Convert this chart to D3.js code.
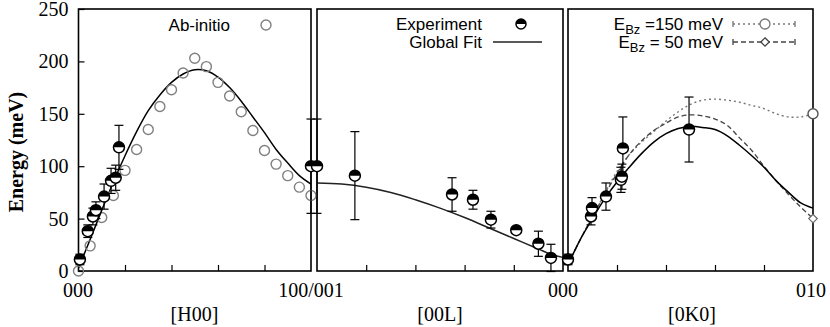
<!DOCTYPE html>
<html>
<head>
<meta charset="utf-8">
<script src="https://cdn.jsdelivr.net/npm/d3@7"></script>
<style>
body { margin: 0; background: #fff; }
text { fill: #000; }
</style>
</head>
<body>
<script>
// energy axis
var yTicks = [0, 50, 100, 150, 200, 250];

// [H00] panel: experiment, ab-initio and global fit
var h00Q   = [0.006, 0.04, 0.062, 0.075, 0.11, 0.14, 0.16, 0.174, 1.0];
var h00E   = [11, 38, 52, 58, 71, 86, 89, 118, 100];
var h00Err = [5, 6, 8, 8, 12, 12, 12, 21, 45];

var abQ = [0, 0.05, 0.1, 0.15, 0.2, 0.25, 0.3, 0.35, 0.4, 0.45, 0.5,
           0.55, 0.6, 0.65, 0.7, 0.75, 0.8, 0.85, 0.9, 0.95, 1.0];
var abE = [0, 24, 51, 72, 96, 116, 135, 157, 173, 189, 203,
           195, 180, 167, 152, 134, 115, 102, 91, 80, 72];

var fitQ = [0, 0.05, 0.1, 0.15, 0.2, 0.25, 0.3, 0.35, 0.4, 0.45, 0.5,
            0.55, 0.6, 0.65, 0.7, 0.75, 0.8, 0.85, 0.9, 0.95, 1.0];
var fitH = [3, 30, 58, 85, 110, 133, 153, 168, 180, 188, 192,
            191, 185, 175, 162, 147, 132, 116, 103, 91, 83];

// [00L] panel
var l00Q   = [1.0, 0.846, 0.451, 0.366, 0.293, 0.19, 0.10, 0.049];
var l00E   = [100, 91, 73, 68, 49, 39, 26, 12.5];
var l00Err = [45, 42, 16, 9, 8, 3, 12, 13];
var fitLQ  = [1, 0.9, 0.8, 0.7, 0.6, 0.5, 0.4, 0.3, 0.2, 0.1, 0.05, 0];
var fitL   = [84, 83, 80, 75, 68, 60, 51, 41, 31, 21, 16, 13];

// [0K0] panel
var k0Q   = [0, 0.094, 0.098, 0.155, 0.216, 0.22, 0.224, 0.494];
var k0E   = [11, 52, 60, 71, 87, 90, 117, 135];
var k0Err = [5, 8, 10, 13, 12, 12, 30, 31];
var fitK  = [6, 30, 50, 69, 85, 99, 112, 123, 131, 136, 138,
             137, 135, 129, 120, 110, 99, 86, 75, 65, 60];
var bz150 = [6, 30, 52, 74, 95, 111, 123, 133, 143, 152, 159,
             163, 164, 163, 161, 158, 155, 150, 147, 147, 150];
var bz50  = [6, 30, 52, 73, 93, 111, 124, 134, 141, 147, 149,
             148, 145, 139, 127, 115, 100, 86, 73, 61, 50];

var w = 830, h = 327;
var svg = d3.select("body").append("svg")
    .attr("width", w)
    .attr("height", h);

var serif = "'Liberation Serif', 'Times New Roman', serif";
var sans = "'Liberation Sans', Arial, sans-serif";

var y = d3.scaleLinear().domain([0, 250]).range([271, 9]);

var panels = [
    {x: d3.scaleLinear().domain([0, 1]).range([78.5, 311]), ticks: [0.2, 0.4, 0.6, 0.8]},
    {x: d3.scaleLinear().domain([1, 0]).range([317, 563]), ticks: [0.8, 0.6, 0.4, 0.2]},
    {x: d3.scaleLinear().domain([0, 1]).range([568, 813]), ticks: [0.2, 0.4, 0.6, 0.8]}
];

function zip(qs, es) {
    return qs.map(function(q, i) { return {q: q, e: es[i]}; });
}

// frames and ticks
panels.forEach(function(p) {
    var r = p.x.range();
    var x0 = Math.min(r[0], r[1]), x1 = Math.max(r[0], r[1]);
    svg.append("g")
        .attr("transform", "translate(0,271)")
        .call(d3.axisBottom(p.x).tickValues(p.ticks).tickSize(-6).tickFormat(""))
        .call(function(g) {
            g.select(".domain").remove();
            g.selectAll("line").attr("stroke", "#000").attr("stroke-width", 1.2);
        });
    svg.append("rect")
        .attr("x", x0).attr("y", 9)
        .attr("width", x1 - x0).attr("height", 262)
        .attr("fill", "none")
        .attr("stroke", "#000")
        .attr("stroke-width", 1.6);
});

svg.append("g")
    .attr("transform", "translate(78.5,0)")
    .call(d3.axisLeft(y).tickValues(yTicks).tickSize(-6).tickPadding(10))
    .call(function(g) {
        g.select(".domain").remove();
        g.selectAll("line").attr("stroke", "#000").attr("stroke-width", 1.2);
        g.selectAll("text")
            .attr("font-family", serif)
            .attr("font-size", 20)
            .attr("fill", "#000");
    });

// x labels
var xLabels = [
    {t: "000", x: 78}, {t: "100/001", x: 311}, {t: "000", x: 563}, {t: "010", x: 811}
];
svg.selectAll(".xl").data(xLabels).enter().append("text")
    .attr("x", function(d) { return d.x; })
    .attr("y", 297)
    .attr("text-anchor", "middle")
    .attr("font-family", serif)
    .attr("font-size", 20)
    .text(function(d) { return d.t; });

var axisNames = [{t: "[H00]", x: 194.5}, {t: "[00L]", x: 440}, {t: "[0K0]", x: 692}];
svg.selectAll(".an").data(axisNames).enter().append("text")
    .attr("x", function(d) { return d.x; })
    .attr("y", 321)
    .attr("text-anchor", "middle")
    .attr("font-family", serif)
    .attr("font-size", 20)
    .text(function(d) { return d.t; });

svg.append("text")
    .attr("transform", "translate(23,152) rotate(-90)")
    .attr("text-anchor", "middle")
    .attr("font-family", serif)
    .attr("font-size", 20)
    .attr("font-weight", "bold")
    .text("Energy (meV)");

// lines
function drawLine(px, data, opts) {
    var line = d3.line()
        .x(function(d) { return px(d.q); })
        .y(function(d) { return y(d.e); })
        .curve(d3.curveCatmullRom);
    svg.append("path")
        .datum(data)
        .attr("d", line)
        .attr("fill", "none")
        .attr("stroke", opts.color)
        .attr("stroke-width", opts.width)
        .attr("stroke-dasharray", opts.dash || null);
}

drawLine(panels[2].x, zip(fitQ, bz150), {color: "#777", width: 1.4, dash: "2,3"});
drawLine(panels[2].x, zip(fitQ, bz50), {color: "#444", width: 1.3, dash: "5,3"});
drawLine(panels[0].x, zip(fitQ, fitH), {color: "#000", width: 1.5});
drawLine(panels[1].x, zip(fitLQ, fitL), {color: "#222", width: 1.5});
drawLine(panels[2].x, zip(fitQ, fitK), {color: "#000", width: 1.5});

// ab-initio circles
svg.append("g").selectAll("circle")
    .data(zip(abQ, abE))
    .enter().append("circle")
    .attr("cx", function(d) { return panels[0].x(d.q); })
    .attr("cy", function(d) { return y(d.e); })
    .attr("r", 5)
    .attr("fill", "none")
    .attr("stroke", "#808080")
    .attr("stroke-width", 1.4);

// end markers of the E_Bz curves
svg.append("circle")
    .attr("cx", panels[2].x(1)).attr("cy", y(bz150[bz150.length - 1]))
    .attr("r", 5).attr("fill", "#fff")
    .attr("stroke", "#555").attr("stroke-width", 1.4);
svg.append("path")
    .attr("d", d3.symbol().type(d3.symbolDiamond2).size(45)())
    .attr("transform", "translate(" + panels[2].x(1) + "," + y(bz50[bz50.length - 1]) + ")")
    .attr("fill", "#fff")
    .attr("stroke", "#666").attr("stroke-width", 1.2);

// experiment with error bars
function halfDisc(sel, r) {
    sel.append("circle").attr("r", r)
        .attr("fill", "#fff").attr("stroke", "#000").attr("stroke-width", 1.5);
    sel.append("path")
        .attr("d", "M" + (-r) + ",0A" + r + "," + r + " 0 0 1 " + r + ",0Z")
        .attr("fill", "#000");
}

function drawExp(px, qs, es, errs) {
    var data = qs.map(function(q, i) { return {q: q, e: es[i], err: errs[i]}; });
    var g = svg.append("g");
    var bars = g.selectAll(".eb").data(data).enter().append("g")
        .attr("stroke", "#000").attr("stroke-width", 1.2);
    bars.append("line")
        .attr("x1", function(d) { return px(d.q); })
        .attr("x2", function(d) { return px(d.q); })
        .attr("y1", function(d) { return y(d.e - d.err); })
        .attr("y2", function(d) { return y(d.e + d.err); });
    [-1, 1].forEach(function(s) {
        bars.append("line")
            .attr("x1", function(d) { return px(d.q) - 4.5; })
            .attr("x2", function(d) { return px(d.q) + 4.5; })
            .attr("y1", function(d) { return y(d.e + s * d.err); })
            .attr("y2", function(d) { return y(d.e + s * d.err); });
    });
    g.selectAll(".m").data(data).enter().append("g")
        .attr("transform", function(d) { return "translate(" + px(d.q) + "," + y(d.e) + ")"; })
        .each(function() { halfDisc(d3.select(this), 5.5); });
}

drawExp(panels[0].x, h00Q, h00E, h00Err);
drawExp(panels[1].x, l00Q, l00E, l00Err);
drawExp(panels[2].x, k0Q, k0E, k0Err);

// legends
function legText(x, yy, t) {
    return svg.append("text")
        .attr("x", x).attr("y", yy)
        .attr("text-anchor", "end")
        .attr("font-family", sans)
        .attr("font-size", 17)
        .text(t);
}

legText(230, 31, "Ab-initio");
svg.append("circle").attr("cx", 266).attr("cy", 25).attr("r", 5)
    .attr("fill", "none").attr("stroke", "#808080").attr("stroke-width", 1.4);

legText(482, 30, "Experiment");
halfDisc(svg.append("g").attr("transform", "translate(521,24)"), 5);
legText(482, 48, "Global Fit");
svg.append("line").attr("x1", 493).attr("x2", 542).attr("y1", 42).attr("y2", 42)
    .attr("stroke", "#222").attr("stroke-width", 1.5);

var bzLeg = [
    {lab: " =150 meV", yy: 24, color: "#777", dash: "2,3", mark: "circle"},
    {lab: " = 50 meV", yy: 42, color: "#444", dash: "5,3", mark: "diamond"}
];
bzLeg.forEach(function(d) {
    var t = svg.append("text")
        .attr("x", 723).attr("y", d.yy + 6)
        .attr("text-anchor", "end")
        .attr("font-family", sans)
        .attr("font-size", 17);
    t.append("tspan").text("E");
    t.append("tspan").attr("font-size", 13).attr("dy", 4).text("Bz");
    t.append("tspan").attr("dy", -4).text(d.lab);

    var lg = svg.append("g").attr("stroke", d.color).attr("stroke-width", 1.3);
    lg.append("line").attr("x1", 733).attr("x2", 795).attr("y1", d.yy).attr("y2", d.yy)
        .attr("stroke-dasharray", d.dash);
    [733, 795].forEach(function(xx) {
        lg.append("line").attr("x1", xx).attr("x2", xx)
            .attr("y1", d.yy - 3).attr("y2", d.yy + 3);
    });
    if (d.mark == "circle") {
        lg.append("circle").attr("cx", 765).attr("cy", d.yy).attr("r", 5).attr("fill", "#fff");
    } else {
        lg.append("path")
            .attr("d", d3.symbol().type(d3.symbolDiamond2).size(45)())
            .attr("transform", "translate(765," + d.yy + ")")
            .attr("fill", "#fff");
    }
});
</script>
</body>
</html>
